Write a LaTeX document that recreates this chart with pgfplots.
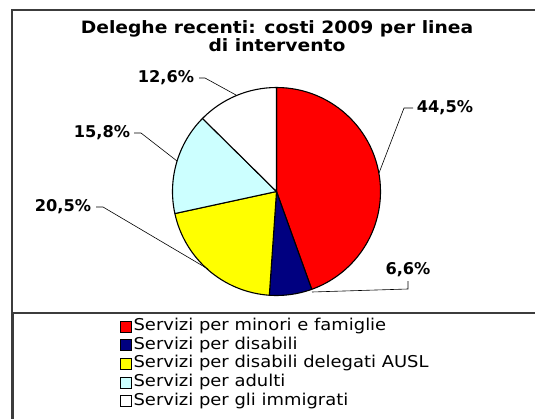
\documentclass[border=0pt]{standalone}
\usepackage{fontspec}
\setmainfont{DejaVu Sans}
\newfontfamily\widefont{DejaVu Sans}[FakeStretch=1.1]
\usepackage{pgfplots}
\usepackage{pgfplotstable}
\pgfplotsset{compat=1.18}

\definecolor{sliceRed}{HTML}{FF0000}
\definecolor{sliceNavy}{HTML}{000080}
\definecolor{sliceYellow}{HTML}{FFFF00}
\definecolor{sliceCyan}{HTML}{CCFFFF}
\definecolor{sliceWhite}{HTML}{FFFFFF}
\definecolor{frameGray}{HTML}{3C3C3C}

% quota dei costi 2009 per linea di intervento (%)
\pgfplotstableread[col sep=comma]{
share,colour,name
44.5,sliceRed,Servizi per minori e famiglie
6.6,sliceNavy,Servizi per disabili
20.5,sliceYellow,Servizi per disabili delegati AUSL
15.8,sliceCyan,Servizi per adulti
12.6,sliceWhite,Servizi per gli immigrati
}\costs

\newcommand\lblfont{\bfseries\fontsize{16.2bp}{18bp}\selectfont}

\begin{document}
\begin{tikzpicture}
\begin{axis}[
    width=535bp, height=419bp, scale only axis,
    xmin=0, xmax=535, ymin=0, ymax=419, y dir=reverse,
    hide axis, clip=false,
    legend style={
        at={(0.2243,0.2387)}, anchor=north west,
        draw=none, fill=none, inner sep=0pt,
        font=\widefont\fontsize{16.3bp}{18bp}\selectfont,
        nodes={inner xsep=1.6bp, inner ysep=0pt, text height=11.5bp, text depth=3.5bp},
        row sep=3.6bp, column sep=0pt,
    },
    legend cell align=left,
    legend image code/.code={\draw[#1, line width=0.8bp] (0bp,-5.5bp) rectangle (11bp,5.5bp);},
]
\pgfplotstablegetrowsof{\costs}
\pgfmathtruncatemacro\lastrow{\pgfplotsretval-1}
\def\cum{0}
\pgfplotsforeachungrouped \r in {0,...,\lastrow}{
    \pgfplotstablegetelem{\r}{share}\of\costs \let\share\pgfplotsretval
    \pgfplotstablegetelem{\r}{colour}\of\costs \let\col\pgfplotsretval
    \pgfplotstablegetelem{\r}{name}\of\costs \let\nm\pgfplotsretval
    \pgfmathsetmacro\a{90-3.6*\cum}
    \pgfmathsetmacro\b{90-3.6*(\cum+\share)}
    \edef\temp{%
        \noexpand\filldraw[fill=\col, draw=black, line width=1.1bp, line join=round]
            (axis cs:276.5,191.5) -- ([shift={(\a:104bp)}]axis cs:276.5,191.5)
            arc[start angle=\a, end angle=\b, radius=104bp] -- cycle;
        \noexpand\addlegendimage{fill=\col, draw=black}
        \noexpand\addlegendentry{\nm}}
    \temp
    \pgfmathsetmacro\cum{\cum+\share}
}

% etichette e linee guida
\draw[line width=0.6bp] (axis cs:413,108) -- (axis cs:404,108) -- (axis cs:379,173);
\node[font=\lblfont] at (axis cs:445,108) {44,5\%};
\draw[line width=0.6bp] (axis cs:408,281) -- (axis cs:408,289) -- (axis cs:312,292);
\node[font=\lblfont] at (axis cs:408,270) {6,6\%};
\draw[line width=0.6bp] (axis cs:96,207) -- (axis cs:103,207) -- (axis cs:208,269);
\node[font=\lblfont] at (axis cs:63,207) {20,5\%};
\draw[line width=0.6bp] (axis cs:134,133) -- (axis cs:141,133) -- (axis cs:177,161);
\node[font=\lblfont] at (axis cs:102,133) {15,8\%};
\draw[line width=0.6bp] (axis cs:199,78) -- (axis cs:205,78) -- (axis cs:236,95);
\node[font=\lblfont] at (axis cs:166,78) {12,6\%};

% titolo
\node[font=\widefont\bfseries\fontsize{17bp}{17.5bp}\selectfont, align=center]
    at (axis cs:277,36) {Deleghe recenti: costi 2009 per linea\\di intervento};

% cornice
\draw[frameGray, line width=2.2bp] (axis cs:12,419) -- (axis cs:12,10) -- (axis cs:535,10);
\draw[frameGray, line width=1.4bp] (axis cs:13,419) -- (axis cs:13,313) -- (axis cs:535,313);
\end{axis}
\pgfresetboundingbox
\useasboundingbox (current axis.south west) rectangle (current axis.north east);
\end{tikzpicture}
\end{document}
